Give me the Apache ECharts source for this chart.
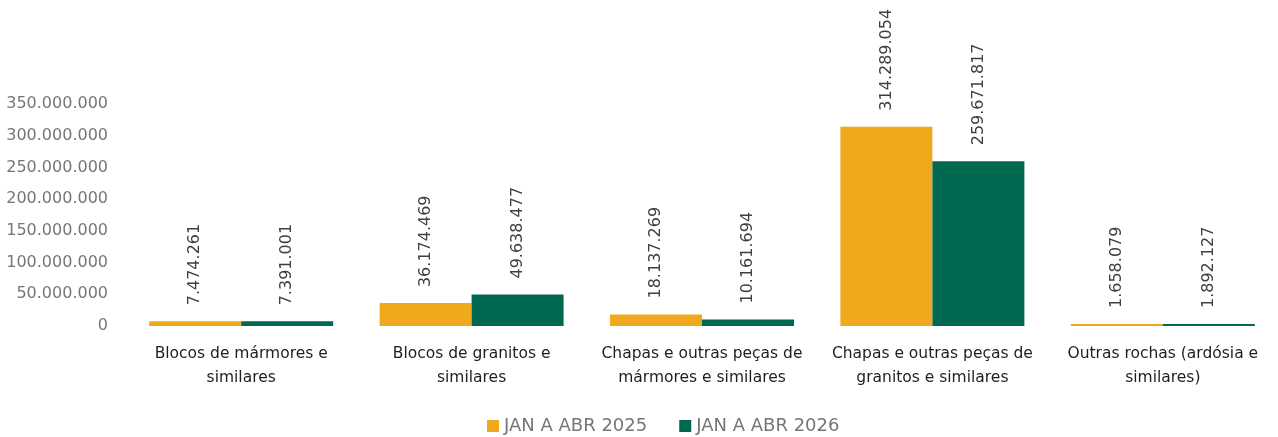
<!DOCTYPE html>
<html>
<head>
<meta charset="utf-8">
<script src="https://cdn.jsdelivr.net/npm/echarts@6/dist/echarts.min.js"></script>
<style>
  html, body {margin: 0; padding: 0; background: #fff;}
  #chart {width: 1278px; height: 437px;}
</style>
</head>
<body>
<div id="chart"></div>
<script>
const categories = [
    'Blocos de mármores e\nsimilares',
    'Blocos de granitos e\nsimilares',
    'Chapas e outras peças de\nmármores e similares',
    'Chapas e outras peças de\ngranitos e similares',
    'Outras rochas (ardósia e\nsimilares)',
];
const seriesNames = ['JAN A ABR 2025', 'JAN A ABR 2026'];
const values2025 = [7474261, 36174469, 18137269, 314289054, 1658079];
const values2026 = [7391001, 49638477, 10161694, 259671817, 1892127];
const colors = ['#EFA91D', '#016851'];

const fontFamily = 'DejaVu Sans';

// pontos como separador de milhar
const fmt = (v) => String(Math.round(v)).replace(/\B(?=(\d{3})+(?!\d))/g, '.');

const chart = echarts.init(document.getElementById('chart'));

const makeSeries = (name, data, color) => ({
    name,
    type: 'bar',
    data,
    barWidth: 92,
    barGap: '0%',
    barMinHeight: 2,
    itemStyle: {color},
    label: {
        show: true,
        position: 'top',
        distance: 16,
        rotate: 90,
        align: 'left',
        verticalAlign: 'middle',
        color: '#404040',
        fontSize: 16,
        fontFamily,
        formatter: (p) => fmt(p.value),
    },
});

chart.setOption({
    animation: false,
    color: colors,
    grid: {left: 126, top: 104, width: 1157, height: 222, containLabel: false},
    legend: {
        data: seriesNames,
        top: 412,
        left: 482,
        itemWidth: 12,
        itemHeight: 12,
        itemGap: 32,
        icon: 'rect',
        textStyle: {color: '#767676', fontSize: 18, fontFamily},
    },
    xAxis: {
        type: 'category',
        data: categories,
        axisLine: {show: false},
        axisTick: {show: false},
        axisLabel: {
            color: '#1e1e1e',
            fontSize: 15.5,
            fontFamily,
            lineHeight: 24,
            margin: 16,
            interval: 0,
        },
    },
    yAxis: {
        type: 'value',
        min: 0,
        max: 350000000,
        interval: 50000000,
        axisLine: {show: false},
        axisTick: {show: false},
        splitLine: {show: false},
        axisLabel: {
            color: '#767676',
            fontSize: 16,
            fontFamily,
            margin: 18,
            formatter: (v) => fmt(v),
        },
    },
    series: [
        makeSeries(seriesNames[0], values2025, colors[0]),
        makeSeries(seriesNames[1], values2026, colors[1]),
    ],
});
</script>
</body>
</html>
